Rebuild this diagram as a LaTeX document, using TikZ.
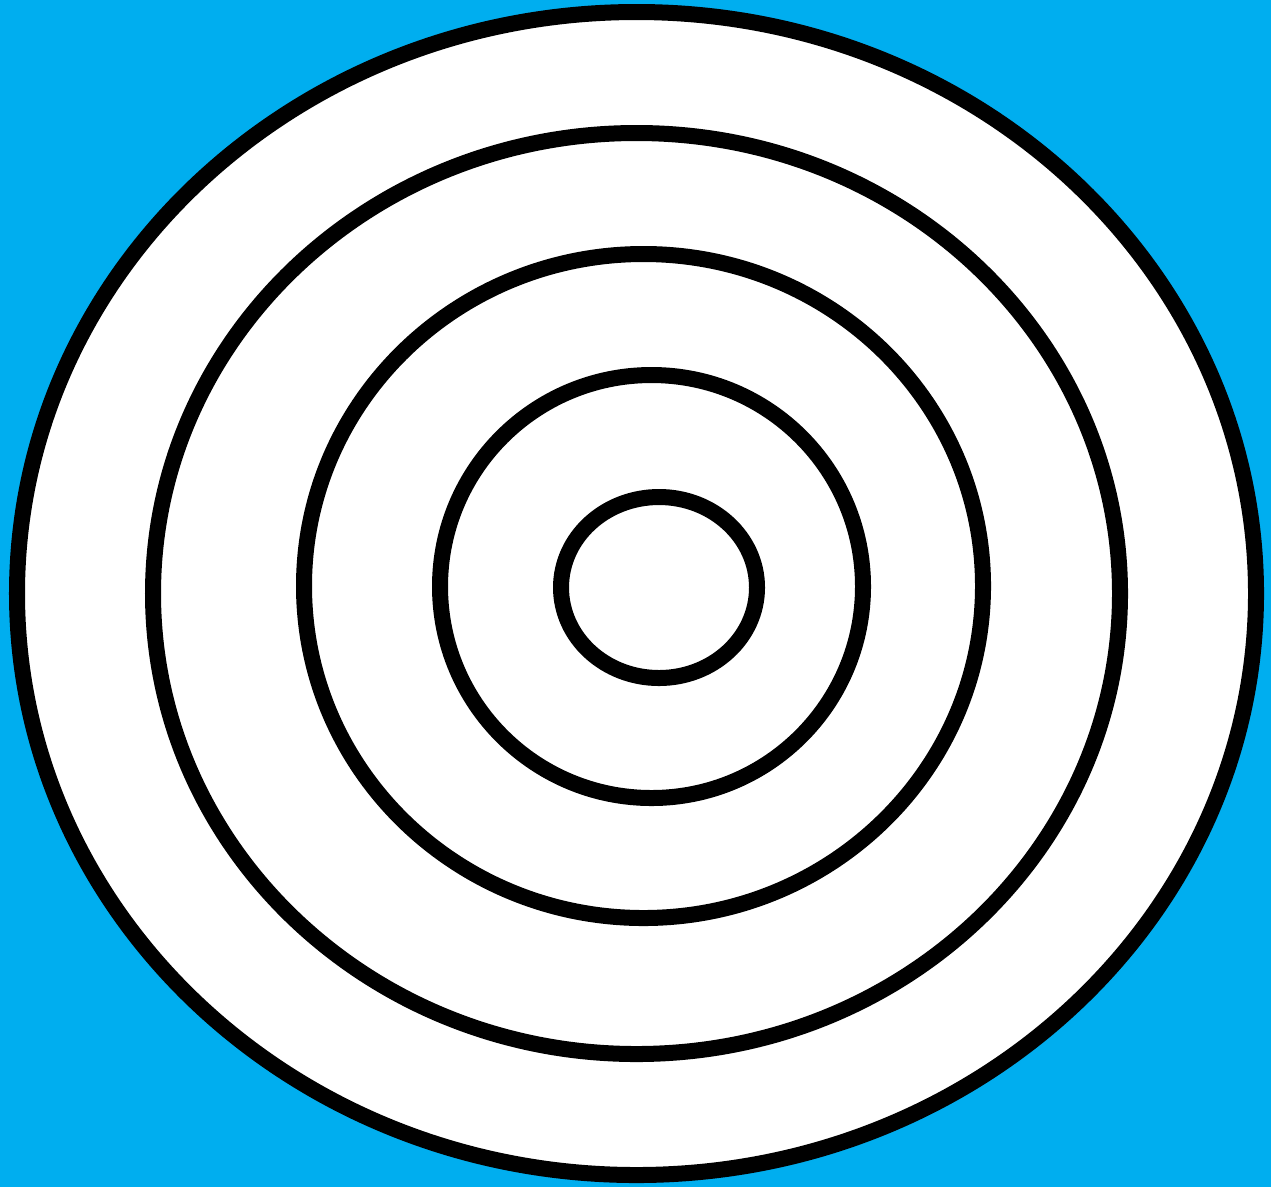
\documentclass[tikz,border=0pt]{standalone}
\definecolor{bgcyan}{HTML}{00AEEF}
\begin{document}
\begin{tikzpicture}[x=0.01cm,y=-0.01cm,
  ring/.style={draw=black,line width=0.16cm}]
\useasboundingbox (0,0) rectangle (1271,1187);
\fill[bgcyan] (0,0) rectangle (1271,1187);
\draw[ring,fill=white] (636.5,593.5) ellipse [x radius=619.5, y radius=581.5];
\draw[ring] (636.5,593.5) ellipse [x radius=483.5, y radius=460.5];
\draw[ring] (643.5,586) ellipse [x radius=339.5, y radius=332];
\draw[ring] (651.5,586.5) ellipse [x radius=211.5, y radius=211.5];
\draw[ring] (659,587.5) ellipse [x radius=98, y radius=90.5];
\end{tikzpicture}
\end{document}
